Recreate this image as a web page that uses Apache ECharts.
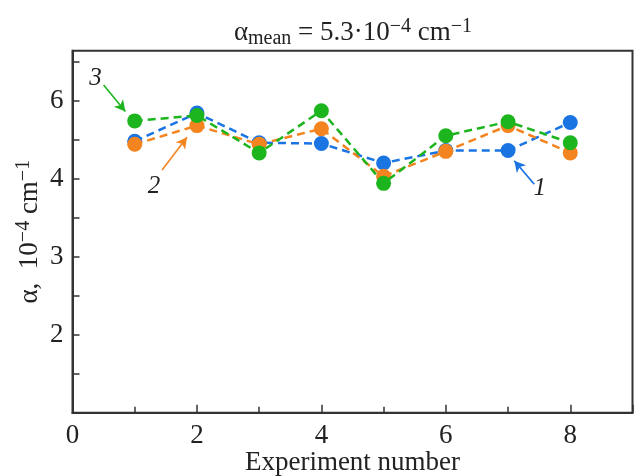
<!DOCTYPE html>
<html>
<head>
<meta charset="utf-8">
<script src="https://cdn.jsdelivr.net/npm/echarts@6/dist/echarts.min.js"></script>
<style>
  html, body { margin: 0; padding: 0; background: #fff; }
  #chart { width: 634px; height: 476px; }
</style>
</head>
<body>
<div id="chart"></div>
<script>
// Experiment numbers on the x axis
const experiments = [1, 2, 3, 4, 5, 6, 7, 8];

// Absorption coefficient, units of 1e-4 cm^-1, three measurement sets
const series1 = [5.48, 5.84, 5.46, 5.45, 5.20, 5.36, 5.36, 5.72];
const series2 = [5.44, 5.68, 5.44, 5.64, 5.03, 5.35, 5.68, 5.33];
const series3 = [5.74, 5.81, 5.33, 5.87, 4.94, 5.55, 5.73, 5.46];

// Printed y tick labels, keyed by tick value
const yTickValues = [3, 4, 5, 6];
const yTickLabels = ['2', '3', '4', '6'];

// Curve numbers with their pointer arrows (data coordinates)
const curveNames = ['1', '2', '3'];
const labelPos = [[7.51, 4.88], [1.31, 4.90], [0.37, 6.29]];
const arrowFrom = [[7.42, 4.93], [1.44, 5.11], [0.50, 6.20]];
const arrowTo = [[7.10, 5.23], [1.84, 5.53], [0.85, 5.86]];

const colors = ['#1a74e2', '#f4841f', '#1db51d'];
const serif = '"Liberation Serif", "Times New Roman", serif';
const ink = '#222';

function makeSeries(values, i) {
  return {
    type: 'line',
    data: experiments.map((x, k) => [x, values[k]]),
    symbol: 'circle',
    symbolSize: 15,
    z: 2 + i,
    itemStyle: { color: colors[i] },
    lineStyle: { color: colors[i], width: 2.5, type: [8, 5] },
    emphasis: { disabled: true },
    markLine: {
      silent: true,
      symbol: ['none', 'arrow'],
      symbolSize: [9, 11],
      lineStyle: { color: colors[i], width: 1.6, type: 'solid' },
      label: { show: false },
      data: [[{ coord: arrowFrom[i] }, { coord: arrowTo[i] }]]
    },
    markPoint: {
      silent: true,
      symbol: 'circle',
      symbolSize: 0,
      label: {
        show: true,
        formatter: curveNames[i],
        fontFamily: serif,
        fontStyle: 'italic',
        fontSize: 25,
        color: ink
      },
      data: [{ coord: labelPos[i] }]
    }
  };
}

const main = { fontFamily: serif, fontSize: 27, fontWeight: 'normal', color: ink, lineHeight: 32, verticalAlign: 'middle' };
const small = { fontFamily: serif, fontSize: 20, fontWeight: 'normal', color: ink, lineHeight: 32 };

const chart = echarts.init(document.getElementById('chart'));
chart.setOption({
  animation: false,
  backgroundColor: '#fff',
  title: {
    text: '{a|α}{sub|mean}{a| = 5.3·10}{sup|−4}{a| cm}{sup|−1}',
    left: 348,
    textAlign: 'center',
    top: 12,
    textStyle: {
      fontWeight: 'normal',
      rich: {
        a: main,
        sub: Object.assign({}, small, { verticalAlign: 'bottom' }),
        sup: Object.assign({}, small, { verticalAlign: 'top' })
      }
    }
  },
  grid: {
    left: 72.5, right: 1.5, top: 50.7, bottom: 63.3,
    outerBoundsMode: 'none',
    show: true, borderColor: '#333', borderWidth: 2, backgroundColor: 'transparent'
  },
  xAxis: {
    type: 'value',
    min: 0, max: 9, interval: 2,
    name: 'Experiment number',
    nameLocation: 'middle',
    nameGap: 37,
    nameMoveOverlap: false,
    nameTextStyle: { fontFamily: serif, fontSize: 27, color: ink },
    axisLine: { show: true, lineStyle: { color: '#333', width: 2 } },
    axisTick: { show: true, inside: true, length: 8, lineStyle: { color: '#333', width: 1.5 } },
    minorTick: { show: true, splitNumber: 2, length: 6, lineStyle: { color: '#333', width: 1.5 } },
    axisLabel: {
      fontFamily: serif, fontSize: 27, color: ink, margin: 10,
      formatter: v => (v <= 8 ? String(v) : '')
    },
    splitLine: { show: false }
  },
  yAxis: {
    type: 'value',
    min: 2, max: 6.64, interval: 0.5,
    name: '{a|α,  10}{sup|−4}{a| cm}{sup|−1}',
    nameLocation: 'middle',
    nameGap: 27,
    nameMoveOverlap: false,
    nameTextStyle: {
      rich: {
        a: main,
        sup: Object.assign({}, small, { verticalAlign: 'top' })
      }
    },
    axisLine: { show: true, lineStyle: { color: '#333', width: 2 } },
    axisTick: { show: true, inside: true, length: 7, lineStyle: { color: '#333', width: 1.5 } },
    axisLabel: {
      fontFamily: serif, fontSize: 27, color: ink, margin: 9,
      showMaxLabel: false,
      formatter: v => {
        const k = yTickValues.indexOf(Math.round(v * 100) / 100);
        return k >= 0 ? yTickLabels[k] : '';
      }
    },
    splitLine: { show: false }
  },
  series: [series1, series2, series3].map(makeSeries)
});
</script>
</body>
</html>
